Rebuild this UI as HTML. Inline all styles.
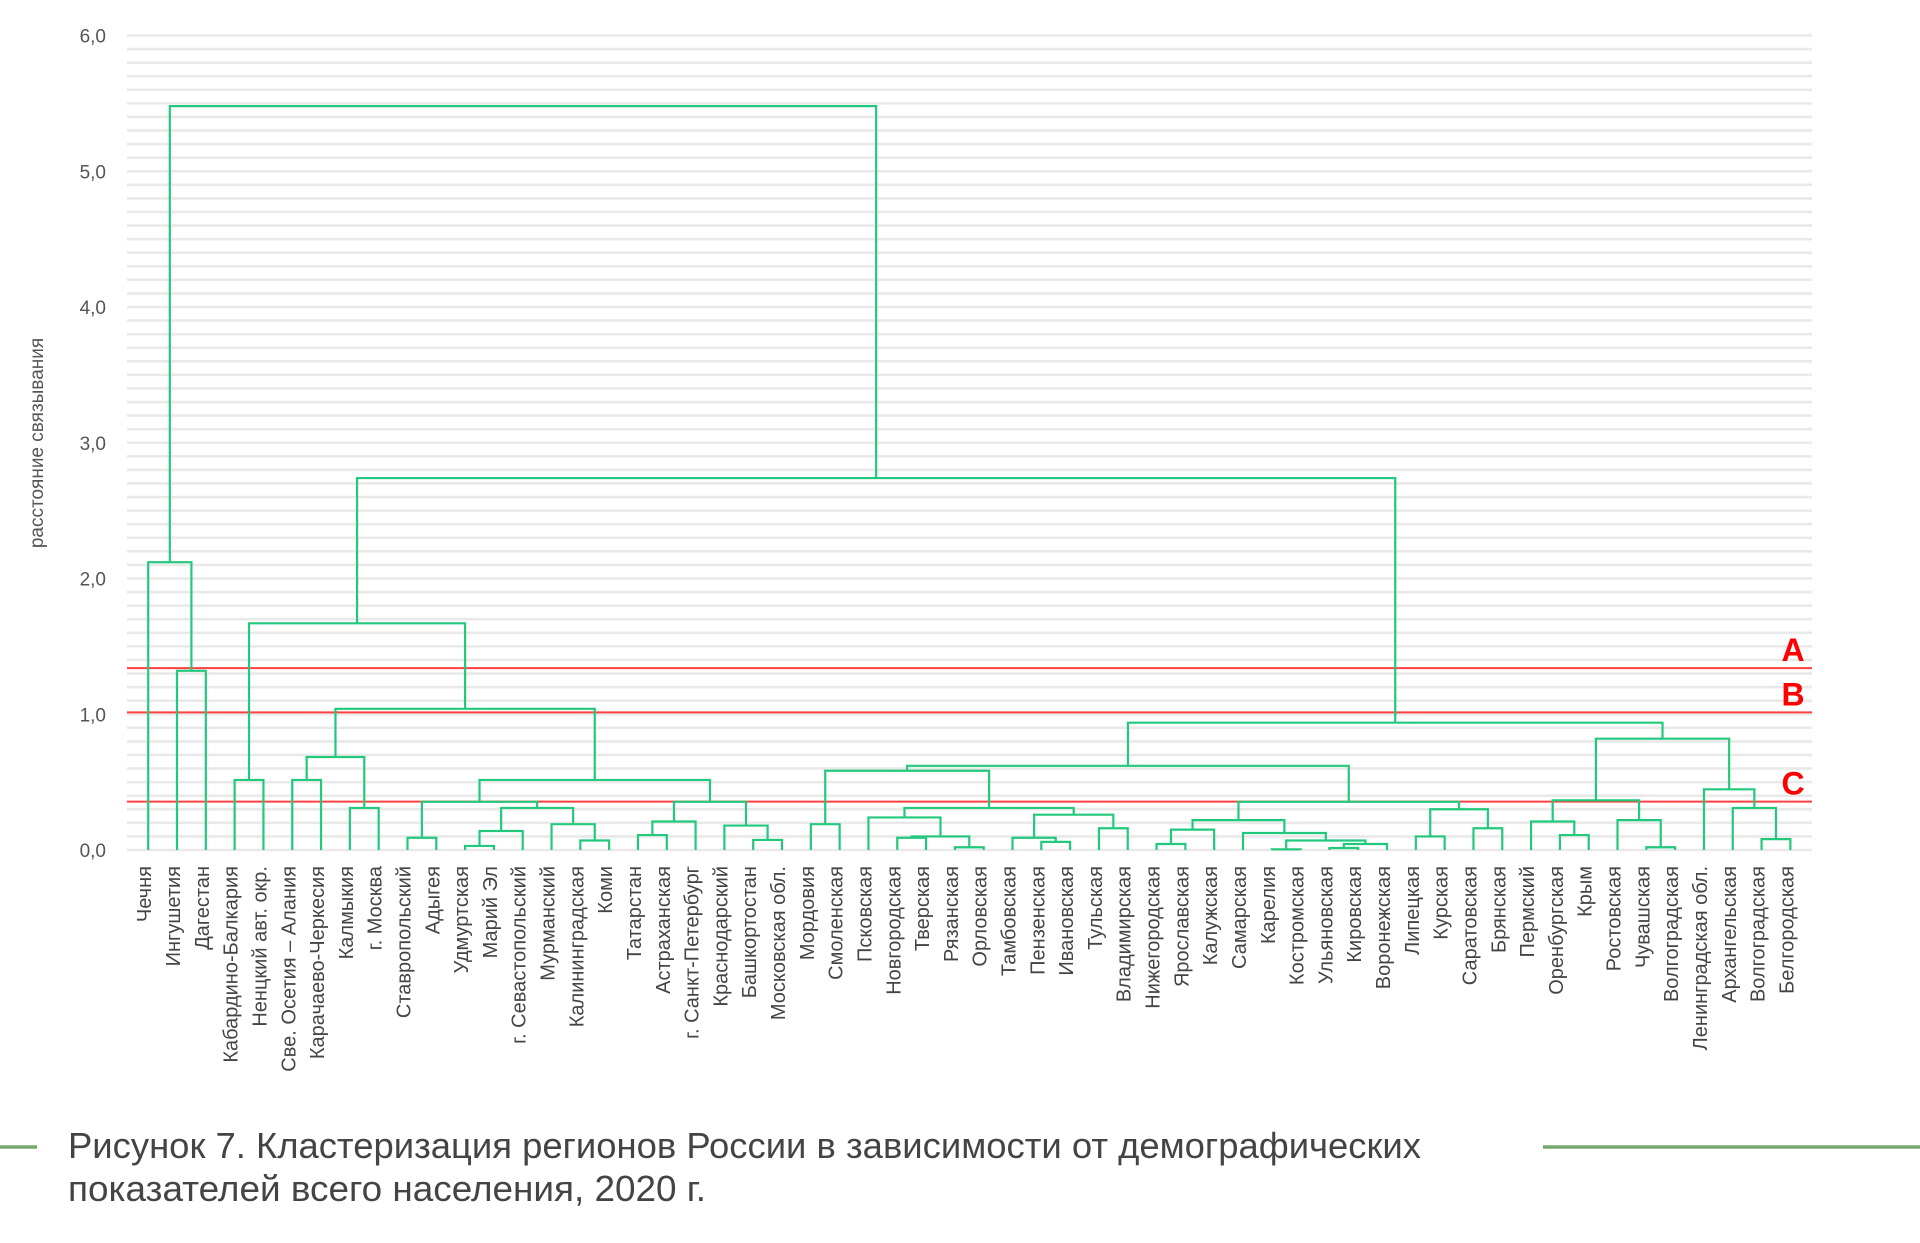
<!DOCTYPE html>
<html><head><meta charset="utf-8"><style>
html,body{margin:0;padding:0;background:#fff;}
svg{display:block;font-family:"Liberation Sans","DejaVu Sans",sans-serif;}
</style></head><body>
<svg id="chart" width="1920" height="1243" viewBox="0 0 1920 1243" xmlns="http://www.w3.org/2000/svg">
<g id="grid"></g>
<g id="yticks"></g>
<text x="43" y="443" transform="rotate(-90 43 443)" text-anchor="middle" font-size="19" fill="#555">расстояние связывания</text>
<g id="cuts"></g>
<g id="tree"></g>
<g id="labels"></g>
<line x1="0" y1="1147" x2="37" y2="1147" stroke="#76a96f" stroke-width="3.5"/>
<line x1="1543" y1="1147" x2="1920" y2="1147" stroke="#76a96f" stroke-width="3.5"/>
<text x="68" y="1158" font-size="36" fill="#444" textLength="1353" lengthAdjust="spacingAndGlyphs">Рисунок 7. Кластеризация регионов России в зависимости от демографических</text>
<text x="68" y="1201" font-size="36" fill="#444" textLength="638" lengthAdjust="spacingAndGlyphs">показателей всего населения, 2020 г.</text>
</svg>
<script>
const leafLabels = ["Чечня","Ингушетия","Дагестан","Кабардино-Балкария","Ненцкий авт. окр.","Све. Осетия – Алания","Карачаево-Черкесия","Калмыкия","г. Москва","Ставропольский","Адыгея","Удмуртская","Марий Эл","г. Севастопольский","Мурманский","Калининградская","Коми","Татарстан","Астраханская","г. Санкт-Петербург","Краснодарский","Башкортостан","Московская обл.","Мордовия","Смоленская","Псковская","Новгородская","Тверская","Рязанская","Орловская","Тамбовская","Пензенская","Ивановская","Тульская","Владимирская","Нижегородская","Ярославская","Калужская","Самарская","Карелия","Костромская","Ульяновская","Кировская","Воронежская","Липецкая","Курская","Саратовская","Брянская","Пермский","Оренбургская","Крым","Ростовская","Чувашская","Волгоградская","Ленинградская обл.","Архангельская","Волгоградская","Белгородская"];
const mergeLeft  = [1,0,3,5,7,61,9,11,65,15,14,66,64,17,71,21,20,72,70,63,60,23,26,28,80,25,31,30,33,85,83,79,35,90,39,41,93,92,38,91,44,46,98,97,89,49,48,52,51,104,56,55,54,107,102,78,59];
const mergeRight = [2,58,4,6,8,62,10,12,13,16,67,68,69,18,19,22,73,74,75,76,77,24,27,29,81,82,32,84,34,86,87,88,36,37,40,42,43,94,95,96,45,47,99,100,101,50,103,53,105,106,57,108,109,110,111,112,113];
const mergeHeight= [1.32,2.12,0.516,0.516,0.31,0.685,0.09,0.03,0.14,0.07,0.19,0.31,0.355,0.11,0.21,0.074,0.18,0.355,0.516,1.04,1.67,0.19,0.09,0.02,0.10,0.24,0.06,0.09,0.16,0.26,0.31,0.584,0.044,0.15,0.005,0.015,0.044,0.07,0.125,0.22,0.10,0.16,0.30,0.355,0.62,0.11,0.21,0.02,0.22,0.366,0.08,0.31,0.447,0.82,0.938,2.74,5.48];
const yTicks = [0,1,2,3,4,5,6];
const yTickLabels = ["0,0","1,0","2,0","3,0","4,0","5,0","6,0"];
const cutValues = [1.34,1.014,0.356];
const cutNames = ["A","B","C"];

const NS="http://www.w3.org/2000/svg";
const X0=127, X1=1812;
const yScale=v=>850-v*135.75;
const xLeaf=i=>148.2+i*28.81;
function mk(tag,attrs,parent){const e=document.createElementNS(NS,tag);for(const k in attrs)e.setAttribute(k,attrs[k]);parent.appendChild(e);return e;}

const grid=document.getElementById('grid');
for(let k=0;k<=60;k++){
  const v=k/10;
  const l=mk('line',{x1:X0,x2:X1,y1:yScale(v),y2:yScale(v),stroke:'#e9e9e9','stroke-width':2.6},grid);
  
  
}
const yt=document.getElementById('yticks');
yTicks.forEach((v,i)=>{
  const t=mk('text',{x:106,y:yScale(v)+7,'text-anchor':'end','font-size':19,fill:'#555'},yt);
  t.textContent=yTickLabels[i];
  
  
});
const cuts=document.getElementById('cuts');
cutValues.forEach((v,i)=>{
  const l=mk('line',{x1:X0,x2:X1,y1:yScale(v),y2:yScale(v),stroke:'#ff4040','stroke-width':2},cuts);
  
  
  const t=mk('text',{x:1793,y:yScale(v)-7,'text-anchor':'middle','font-size':32,'font-weight':'bold',fill:'#ff0000'},cuts);
  t.textContent=cutNames[i];
  
  
});
const n=leafLabels.length;
const nx=[],nh=[];
for(let i=0;i<n;i++){nx.push(xLeaf(i));nh.push(0);}
const tree=document.getElementById('tree');
for(let m=0;m<mergeLeft.length;m++){
  const a=mergeLeft[m],b=mergeRight[m],h=mergeHeight[m];
  const xa=nx[a],xb=nx[b],yh=yScale(h);
  const p=mk('path',{d:`M${xa},${yScale(nh[a])}V${yh}H${xb}V${yScale(nh[b])}`,fill:'none',stroke:'#22c97d','stroke-width':2.2},tree);
  
  
  nx.push((xa+xb)/2);nh.push(h);
}
const lab=document.getElementById('labels');
leafLabels.forEach((s,i)=>{
  const x=xLeaf(i)-3,y=866;
  const t=mk('text',{x:x,y:y,transform:`rotate(-90 ${x} ${y})`,'text-anchor':'end','dominant-baseline':'central','font-size':20,fill:'#444'},lab);
  t.textContent=s;
  
  
});
</script>
</body></html>
